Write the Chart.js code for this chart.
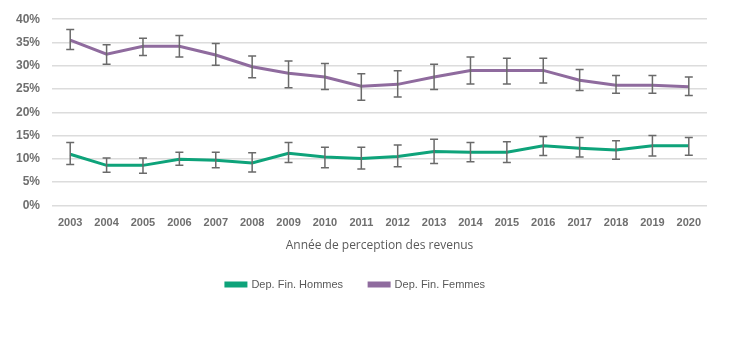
<!DOCTYPE html>
<html>
<head>
<meta charset="utf-8">
<script src="https://cdn.jsdelivr.net/npm/chart.js@4"></script>
<style>
  html, body { margin: 0; padding: 0; background: #fff; }
  #wrap { width: 750px; height: 337px; }
</style>
</head>
<body>
<div id="wrap"><canvas id="chart"></canvas></div>
<script>
// Data
const years = ['2003','2004','2005','2006','2007','2008','2009','2010','2011','2012','2013','2014','2015','2016','2017','2018','2019','2020'];

const hommes     = [11.0, 8.6, 8.6, 9.9, 9.7, 9.1, 11.2, 10.4, 10.1, 10.5, 11.6, 11.4, 11.4, 12.8, 12.3, 11.9, 12.8, 12.8];
const hommesLow  = [8.8, 7.1, 6.9, 8.6, 8.1, 7.2, 9.2, 8.1, 7.8, 8.3, 9.0, 9.4, 9.2, 10.7, 10.4, 9.9, 10.6, 10.8];
const hommesHigh = [13.5, 10.2, 10.2, 11.4, 11.4, 11.3, 13.5, 12.5, 12.5, 13.0, 14.2, 13.5, 13.7, 14.8, 14.6, 13.9, 15.0, 14.6];

const femmes     = [35.5, 32.5, 34.2, 34.2, 32.3, 29.8, 28.4, 27.6, 25.6, 26.0, 27.6, 29.0, 29.0, 29.0, 26.9, 25.8, 25.8, 25.5];
const femmesLow  = [33.5, 30.3, 32.2, 31.9, 30.1, 27.4, 25.3, 24.9, 22.6, 23.3, 24.9, 26.1, 26.1, 26.3, 24.7, 24.1, 24.1, 23.6];
const femmesHigh = [37.8, 34.5, 35.9, 36.5, 34.8, 32.1, 31.0, 30.5, 28.3, 28.9, 30.3, 31.9, 31.6, 31.6, 29.2, 27.9, 27.9, 27.6];

const yTicks = [0, 5, 10, 15, 20, 25, 30, 35, 40];

const GREEN = '#0ea37a';
const PURPLE = '#8f6b9e';
const NARROW = "'Liberation Sans', sans-serif";

// error bars drawn through the chart scales
const errorBars = {
    id: 'errorBars',
    afterDatasetsDraw(chart) {
        const ctx = chart.ctx;
        const x = chart.scales.x;
        const y = chart.scales.y;
        ctx.save();
        ctx.strokeStyle = '#6a6a6a';
        ctx.lineWidth = 1.5;
        chart.data.datasets.forEach(ds => {
            ds.low.forEach((lo, i) => {
                const px = x.getPixelForValue(i);
                const pLo = y.getPixelForValue(lo);
                const pHi = y.getPixelForValue(ds.high[i]);
                ctx.beginPath();
                ctx.moveTo(px, pLo); ctx.lineTo(px, pHi);
                ctx.moveTo(px - 4, pLo); ctx.lineTo(px + 4, pLo);
                ctx.moveTo(px - 4, pHi); ctx.lineTo(px + 4, pHi);
                ctx.stroke();
            });
        });
        ctx.restore();
    }
};

new Chart(document.getElementById('chart'), {
    type: 'line',
    data: {
        labels: years,
        datasets: [
            {
                label: 'Dep. Fin. Hommes',
                data: hommes,
                low: hommesLow,
                high: hommesHigh,
                borderColor: GREEN,
                backgroundColor: GREEN,
                borderWidth: 3,
                pointRadius: 0,
                tension: 0
            },
            {
                label: 'Dep. Fin. Femmes',
                data: femmes,
                low: femmesLow,
                high: femmesHigh,
                borderColor: PURPLE,
                backgroundColor: PURPLE,
                borderWidth: 3,
                pointRadius: 0,
                tension: 0
            }
        ]
    },
    options: {
        responsive: true,
        maintainAspectRatio: false,
        animation: false,
        layout: { padding: { left: 4, right: 43, top: 6, bottom: 37 } },
        scales: {
            x: {
                offset: true,
                grid: { display: false },
                border: { display: false },
                ticks: {
                    color: '#6f6f6f',
                    font: { family: NARROW, size: 11, weight: 'bold' },
                    maxRotation: 0,
                    autoSkip: false,
                    padding: 3
                },
                title: {
                    display: true,
                    text: 'Année de perception des revenus',
                    color: '#595959',
                    font: { family: 'Open Sans', size: 12 },
                    padding: { top: 6, bottom: 0 }
                }
            },
            y: {
                min: 0,
                max: 40,
                afterBuildTicks: axis => { axis.ticks = yTicks.map(v => ({ value: v })); },
                grid: { color: '#dcdcdc', lineWidth: 1.5, drawTicks: false },
                border: { display: false },
                ticks: {
                    color: '#6f6f6f',
                    font: { family: NARROW, size: 12, weight: 'bold' },
                    padding: 12,
                    callback: v => v + '%'
                }
            }
        },
        plugins: {
            legend: {
                position: 'bottom',
                labels: {
                    color: '#595959',
                    font: { family: NARROW, size: 11 },
                    boxWidth: 20,
                    boxHeight: 3,
                    padding: 26
                }
            },
            tooltip: { enabled: false }
        }
    },
    plugins: [errorBars]
});
</script>
</body>
</html>
